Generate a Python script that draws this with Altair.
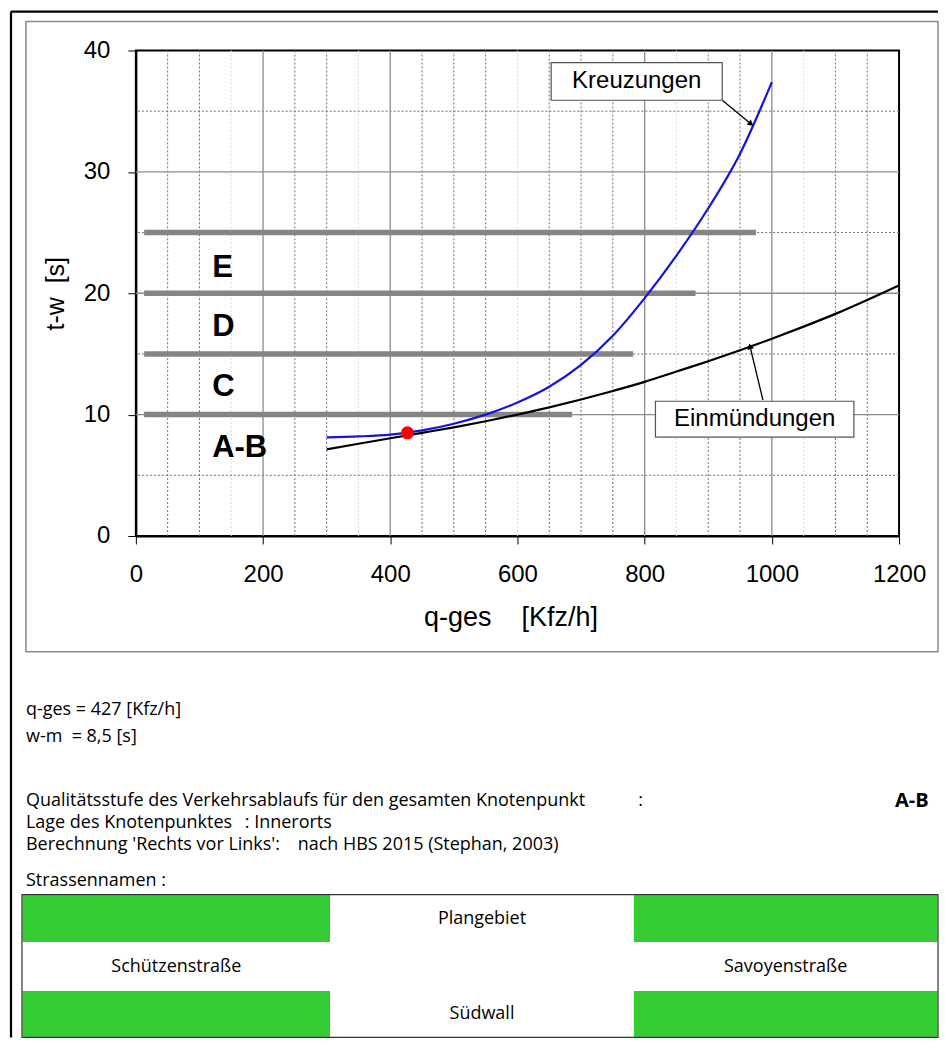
import altair as alt
import pandas as pd

# ---------------- chart data ----------------
q_kreuz = [300, 350, 400, 450, 500, 550, 600, 650, 700, 750, 800, 850, 900, 950, 1000]
t_kreuz = [8.12, 8.2, 8.35, 8.7, 9.25, 10.0, 11.0, 12.3, 14.1, 16.5, 19.6, 23.1, 27.0, 31.5, 37.4]

q_einm = [300, 350, 400, 450, 500, 550, 600, 650, 700, 750, 800, 850, 900, 950,
          1000, 1050, 1100, 1150, 1200]
t_einm = [7.13, 7.6, 8.05, 8.5, 8.95, 9.45, 10.0, 10.6, 11.25, 11.95, 12.7, 13.55, 14.4, 15.3,
          16.25, 17.25, 18.3, 19.45, 20.65]

point_q = [427]
point_t = [8.5]

level_t = [10, 15, 20, 25]
level_q_start = [13, 13, 13, 13]
level_q_end = [686, 782, 880, 975]
level_names = ["A-B", "C", "D", "E"]
level_name_q = [120, 120, 120, 120]
level_name_t = [7.25, 12.3, 17.2, 22.1]

x_ticks = [0, 200, 400, 600, 800, 1000, 1200]
y_ticks = [0, 10, 20, 30, 40]
x_major_grid = [200, 400, 800, 1000]
x_minor_grid = [50, 100, 250, 300, 450, 500, 550, 650, 700, 750, 900, 950, 1100, 1150]
x_faint_grid = [150, 350, 600, 850, 1050]
y_major_grid = [10, 20, 30]
y_minor_grid = [5, 15, 25, 35]

ann_labels = ["Kreuzungen", "Einmündungen"]
ann_box_q1 = [653, 817]
ann_box_q2 = [922, 1129]
ann_box_t1 = [35.9, 8.15]
ann_box_t2 = [39.0, 11.1]
ann_from_q = [922, 986]
ann_from_t = [35.9, 11.2]
ann_to_q = [966, 966]
ann_to_t = [34.0, 15.55]
ann_head_angle = [129, 346]

# ---------------- text / table data (page layout units) ----------------
info_text = ["q-ges = 427 [Kfz/h]", "w-m\u00a0\u00a0= 8,5 [s]",
             "Qualitätsstufe des Verkehrsablaufs für den gesamten Knotenpunkt", ":",
             "Lage des Knotenpunktes", ": Innerorts",
             "Berechnung 'Rechts vor Links':", "nach HBS 2015 (Stephan, 2003)",
             "Strassennamen :"]
info_x = [25, 25, 25, 638, 25, 244, 25, 297, 25]
info_y = [710, 737, 801, 801, 823, 823, 845, 845, 881]
result_text = ["A-B"]
result_x = [895]
result_y = [801]

col_edges = [21, 330, 633, 938]
row_edges = [895, 943, 991, 1038]
cell_fill = [["#33cc33", "#ffffff", "#33cc33"],
             ["#ffffff", "#ffffff", "#ffffff"],
             ["#33cc33", "#ffffff", "#33cc33"]]
cell_text = [["", "Plangebiet", ""],
             ["Schützenstraße", "", "Savoyenstraße"],
             ["", "Südwall", ""]]

FONT = "Liberation Sans"
TFONT = "Open Sans"

# ---------------- plot panel ----------------
xscale = alt.Scale(domain=[0, 1200], nice=False, zero=False)
yscale = alt.Scale(domain=[0, 40], nice=False, zero=False)
X_TITLE = "q-ges\u00a0\u00a0\u00a0\u00a0[Kfz/h]"
Y_TITLE = "t-w\u00a0\u00a0[s]"

xaxis = alt.Axis(values=x_ticks, grid=False, format="d", tickSize=8, tickColor="black",
                 tickWidth=1, domainColor="black", domainWidth=2,
                 labelFont=FONT, labelFontSize=24, labelColor="black", labelPadding=19,
                 labelFlush=False, title=X_TITLE, titleFont=FONT, titleFontSize=27,
                 titleFontWeight="normal", titleColor="black", titlePadding=18, titleX=375)
yaxis = alt.Axis(values=y_ticks, grid=False, format="d", tickSize=8, tickColor="black",
                 tickWidth=1, domainColor="black", domainWidth=2,
                 labelFont=FONT, labelFontSize=24, labelColor="black", labelPadding=18,
                 labelFlush=False, title=Y_TITLE, titleFont=FONT, titleFontSize=25,
                 titleFontWeight="normal", titleColor="black", titlePadding=15)


def X(field):
    return alt.X(field, type="quantitative", scale=xscale, axis=xaxis, title=X_TITLE)


def Y(field):
    return alt.Y(field, type="quantitative", scale=yscale, axis=yaxis, title=Y_TITLE)


one = pd.DataFrame({"d": [0]})

# decoration frames (outside the plot area)
outer_left = alt.Chart(one).mark_rule(color="black", strokeWidth=2.2).encode(
    x=alt.value(-125), y=alt.value(-39), y2=alt.value(988))
outer_top = alt.Chart(one).mark_rule(color="black", strokeWidth=2.2).encode(
    x=alt.value(-125), x2=alt.value(803), y=alt.value(-39))
inner_frame = alt.Chart(one).mark_rect(fillOpacity=0, stroke="#8a8a8a", strokeWidth=1.5).encode(
    x=alt.value(-110), x2=alt.value(803), y=alt.value(-29), y2=alt.value(602))

grid_xmaj = alt.Chart(pd.DataFrame({"q": x_major_grid})).mark_rule(
    color="#8c8c8c", strokeWidth=1.3).encode(x=X("q"))
grid_xmin = alt.Chart(pd.DataFrame({"q": x_minor_grid})).mark_rule(
    color="#6e6e6e", strokeWidth=1, strokeDash=[2, 2]).encode(x=X("q"))
grid_xfaint = alt.Chart(pd.DataFrame({"q": x_faint_grid})).mark_rule(
    color="#dadada", strokeWidth=1, strokeDash=[2, 2]).encode(x=X("q"))
grid_ymaj = alt.Chart(pd.DataFrame({"t": y_major_grid})).mark_rule(
    color="#8c8c8c", strokeWidth=1.3).encode(y=Y("t"))
grid_ymin = alt.Chart(pd.DataFrame({"t": y_minor_grid})).mark_rule(
    color="#6e6e6e", strokeWidth=1, strokeDash=[2, 2]).encode(y=Y("t"))

levels_df = pd.DataFrame({"q": level_q_start, "q2": level_q_end, "t": level_t})
level_bars = alt.Chart(levels_df).mark_rule(color="#858585", strokeWidth=5.5).encode(
    x=X("q"), x2="q2", y=Y("t"))

level_lbl_df = pd.DataFrame({"q": level_name_q, "t": level_name_t, "lbl": level_names})
level_lbls = alt.Chart(level_lbl_df).mark_text(
    font=FONT, fontSize=31, fontWeight="bold", color="black", align="left",
    baseline="middle").encode(x=X("q"), y=Y("t"), text="lbl:N")

kreuz = alt.Chart(pd.DataFrame({"q": q_kreuz, "t": t_kreuz})).mark_line(
    color="#1414dc", strokeWidth=2.2, interpolate="monotone").encode(x=X("q"), y=Y("t"))
einm = alt.Chart(pd.DataFrame({"q": q_einm, "t": t_einm})).mark_line(
    color="black", strokeWidth=2.2, interpolate="monotone").encode(x=X("q"), y=Y("t"))

ann_df = pd.DataFrame({"lbl": ann_labels, "q": ann_box_q1, "q2": ann_box_q2,
                       "t": ann_box_t1, "t2": ann_box_t2,
                       "fq": ann_from_q, "ft": ann_from_t, "tq": ann_to_q, "tt": ann_to_t,
                       "ang": ann_head_angle})
ann_df["cq"] = [(a + b) / 2 for a, b in zip(ann_box_q1, ann_box_q2)]
ann_df["ct"] = [(a + b) / 2 for a, b in zip(ann_box_t1, ann_box_t2)]

ann_lines = alt.Chart(ann_df).mark_rule(color="black", strokeWidth=1.3).encode(
    x=X("fq"), y=Y("ft"), x2="tq", y2="tt")
ann_heads = alt.Chart(ann_df).mark_point(shape="triangle", filled=True, color="black",
                                         size=45, opacity=1).encode(
    x=X("tq"), y=Y("tt"), angle=alt.Angle("ang:Q", scale=None))
ann_boxes = alt.Chart(ann_df).mark_rect(fill="white", stroke="#555555", strokeWidth=1.2).encode(
    x=X("q"), x2="q2", y=Y("t"), y2="t2")
ann_text = alt.Chart(ann_df).mark_text(font=FONT, fontSize=24, color="black",
                                       baseline="middle", align="center").encode(
    x=X("cq"), y=Y("ct"), text="lbl:N")

red_point = alt.Chart(pd.DataFrame({"q": point_q, "t": point_t})).mark_circle(
    color="#ff0000", size=170, opacity=1).encode(x=X("q"), y=Y("t"))

plot_panel = alt.layer(
    inner_frame, outer_left, outer_top,
    grid_xfaint, grid_xmin, grid_ymin, grid_xmaj, grid_ymaj,
    level_bars, einm, kreuz, ann_lines, ann_heads, ann_boxes, ann_text,
    red_point, level_lbls
).properties(width=764, height=486,
             view=alt.ViewBackground(stroke="black", strokeWidth=2))

# ---------------- text + table panel ----------------
px_x = alt.Scale(domain=[135, 899], nice=False, zero=False)
px_y = alt.Scale(domain=[680, 1038], nice=False, zero=False, reverse=True)

info_df = pd.DataFrame({"x": info_x, "y": info_y, "txt": info_text})
info = alt.Chart(info_df).mark_text(font=TFONT, fontSize=18, color="black", align="left",
                                    baseline="middle").encode(
    x=alt.X("x:Q", scale=px_x, axis=None), y=alt.Y("y:Q", scale=px_y, axis=None), text="txt:N")

res_df = pd.DataFrame({"x": result_x, "y": result_y, "txt": result_text})
result = alt.Chart(res_df).mark_text(font=TFONT, fontSize=20, fontWeight="bold", color="black",
                                     align="left", baseline="middle").encode(
    x=alt.X("x:Q", scale=px_x, axis=None), y=alt.Y("y:Q", scale=px_y, axis=None), text="txt:N")

cells = []
for r in range(3):
    for c in range(3):
        cells.append({"x1": col_edges[c], "x2": col_edges[c + 1],
                      "y1": row_edges[r], "y2": row_edges[r + 1],
                      "fill": cell_fill[r][c], "txt": cell_text[r][c],
                      "cx": (col_edges[c] + col_edges[c + 1]) / 2,
                      "cy": (row_edges[r] + row_edges[r + 1]) / 2})
cells_df = pd.DataFrame(cells)

table_cells = alt.Chart(cells_df).mark_rect(stroke="#ffffff", strokeWidth=1).encode(
    x=alt.X("x1:Q", scale=px_x, axis=None), x2="x2",
    y=alt.Y("y1:Q", scale=px_y, axis=None), y2="y2",
    color=alt.Color("fill:N", scale=None))
table_border = alt.Chart(pd.DataFrame({"x1": [col_edges[0]], "x2": [col_edges[-1]],
                                       "y1": [row_edges[0]], "y2": [row_edges[-1]]})).mark_rect(
    fillOpacity=0, stroke="#333333", strokeWidth=1.2).encode(
    x=alt.X("x1:Q", scale=px_x, axis=None), x2="x2",
    y=alt.Y("y1:Q", scale=px_y, axis=None), y2="y2")
table_text = alt.Chart(cells_df).mark_text(font=TFONT, fontSize=18, color="black",
                                           align="center", baseline="middle").encode(
    x=alt.X("cx:Q", scale=px_x, axis=None), y=alt.Y("cy:Q", scale=px_y, axis=None),
    text="txt:N")

text_panel = alt.layer(info, result, table_cells, table_border, table_text).properties(
    width=764, height=358, view=alt.ViewBackground(stroke="transparent"))

chart = alt.vconcat(plot_panel, text_panel, spacing=144, bounds="flush").properties(
    padding={"left": 0, "top": 0, "right": 0, "bottom": 0},
    background="white"
)

chart.save("out.html", embed_options={"renderer": "svg", "actions": False})
